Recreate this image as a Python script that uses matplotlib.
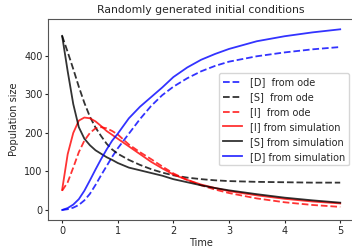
import matplotlib
matplotlib.use("Agg")
import matplotlib.pyplot as plt

# time points
t = [0, 0.1, 0.2, 0.3, 0.4, 0.5, 0.6, 0.7, 0.8, 0.9, 1.0, 1.2, 1.4, 1.6,
     1.8, 2.0, 2.25, 2.5, 2.75, 3.0, 3.5, 4.0, 4.5, 5.0]

# ode solutions
d_ode = [0, 2, 6, 13, 25, 42, 65, 90, 114, 138, 160, 198, 236, 270,
         298, 320, 342, 360, 374, 385, 399, 409, 417, 423]
s_ode = [452, 410, 366, 320, 278, 242, 214, 192, 172, 157, 146, 130, 117, 106,
         97, 90, 84, 80, 77, 75, 73, 72, 71, 71]
i_ode = [50, 72, 110, 150, 180, 200, 212, 215, 212, 205, 196, 170, 150, 132,
         113, 95, 78, 64, 53, 44, 30, 20, 13, 8]

# simulation
i_sim = [52, 145, 200, 232, 240, 238, 230, 218, 205, 195, 185, 165, 145, 125,
         108, 92, 78, 66, 57, 49, 38, 29, 22, 17]
s_sim = [452, 360, 275, 215, 185, 168, 155, 146, 137, 130, 122, 110, 103, 96,
         89, 80, 72, 64, 57, 51, 41, 32, 25, 19]
d_sim = [0, 5, 14, 28, 50, 77, 105, 132, 157, 180, 198, 238, 268, 293,
         318, 345, 370, 390, 405, 418, 438, 451, 461, 469]

plt.rcParams["font.size"] = 7
plt.rcParams["text.color"] = "#262626"
plt.rcParams["axes.labelcolor"] = "#262626"
plt.rcParams["xtick.color"] = "#262626"
plt.rcParams["ytick.color"] = "#262626"
plt.rcParams["axes.edgecolor"] = "#555555"

fig = plt.figure(figsize=(3.52, 2.52), dpi=100)
ax = fig.add_axes([0.137, 0.127, 0.869, 0.798])

ax.plot(t, d_ode, "b--", alpha=0.8, lw=1.3, label="[D]  from ode")
ax.plot(t, s_ode, "k--", alpha=0.8, lw=1.3, label="[S]  from ode")
ax.plot(t, i_ode, "r--", alpha=0.8, lw=1.3, label="[I]  from ode")
ax.plot(t, i_sim, "r-", alpha=0.8, lw=1.3, label="[I] from simulation")
ax.plot(t, s_sim, "k-", alpha=0.8, lw=1.3, label="[S] from simulation")
ax.plot(t, d_sim, "b-", alpha=0.8, lw=1.3, label="[D] from simulation")

ax.set_xlim(-0.25, 5.25)
ax.set_ylim(-26, 496)
ax.set_xticks([0, 1, 2, 3, 4, 5])
ax.set_yticks([0, 100, 200, 300, 400])
ax.tick_params(length=2.5, pad=1.5)
ax.set_xlabel("Time", labelpad=2)
ax.set_ylabel("Population size", labelpad=4)
ax.set_title("Randomly generated initial conditions", fontsize=7.8, pad=4)
ax.legend(loc="center right")

plt.savefig("out.png")
